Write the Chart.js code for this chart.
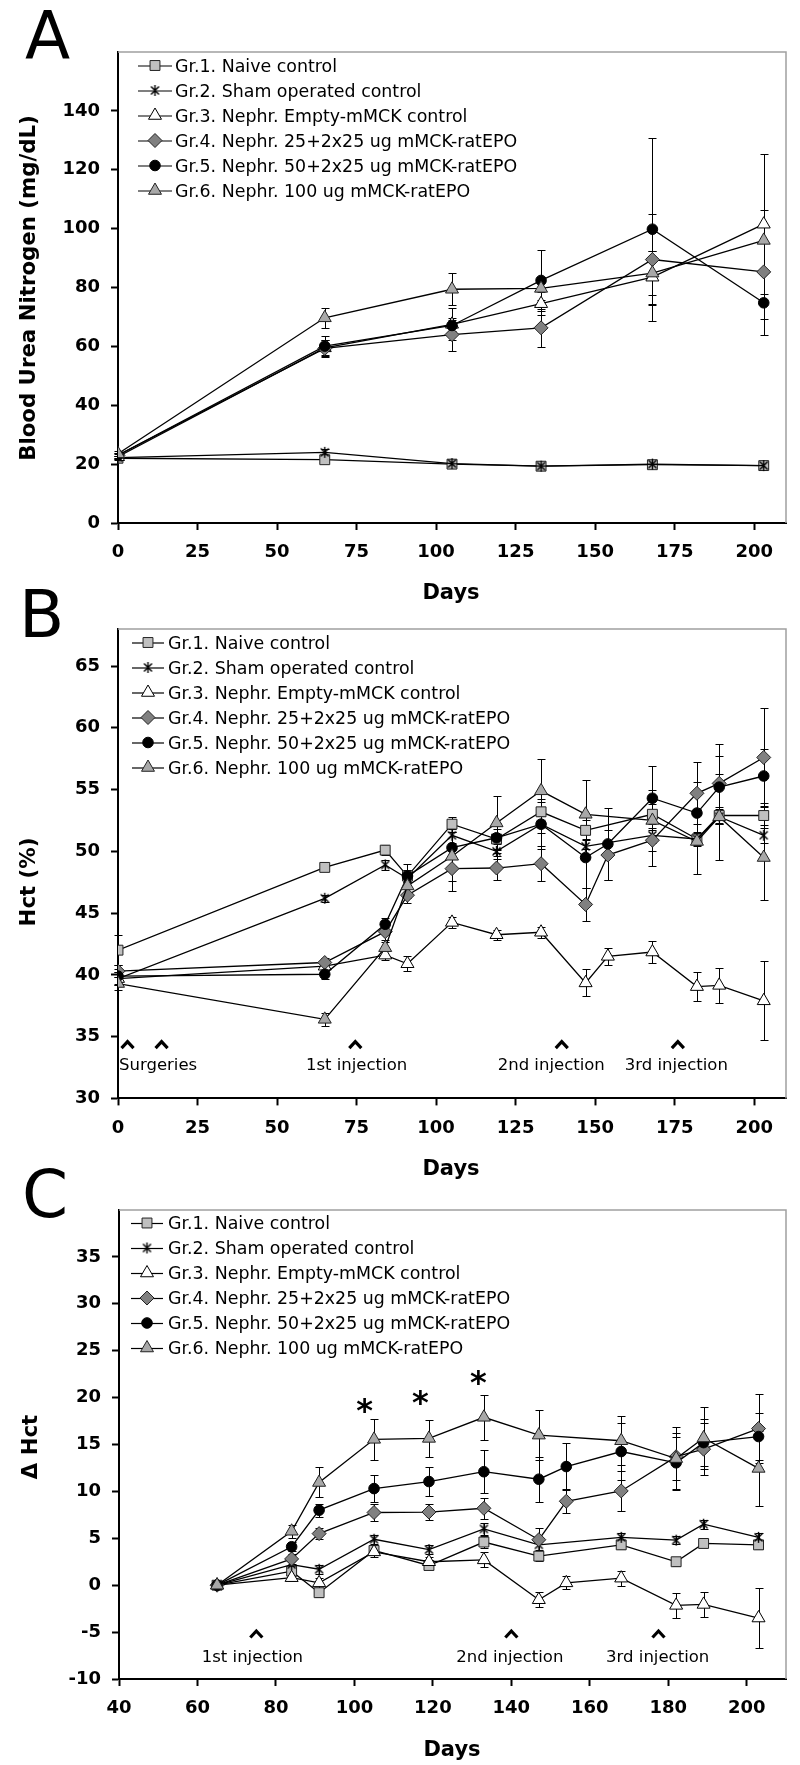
<!DOCTYPE html>
<html><head><meta charset="utf-8">
<script src="https://cdn.jsdelivr.net/npm/chart.js@4.4.1/dist/chart.umd.min.js"></script>
<style>
html,body{margin:0;padding:0;background:#fff;}
#wrap{position:relative;width:800px;height:1765px;overflow:hidden;}
canvas{position:absolute;left:0;top:0;}
</style></head><body>
<div id="wrap">
<canvas id="cA" width="800" height="1765"></canvas>
<canvas id="cB" width="800" height="1765"></canvas>
<canvas id="cC" width="800" height="1765"></canvas>
</div>
<script>
// ---------------- DATA ----------------
const groupLabels = [
  'Gr.1. Naive control',
  'Gr.2. Sham operated control',
  'Gr.3. Nephr. Empty-mMCK control',
  'Gr.4. Nephr. 25+2x25 ug mMCK-ratEPO',
  'Gr.5. Nephr. 50+2x25 ug mMCK-ratEPO',
  'Gr.6. Nephr. 100 ug mMCK-ratEPO'
];

// Panel A: Blood Urea Nitrogen (mg/dL)
const daysA = [0, 65, 105, 133, 168, 203];
const bunMean = [
  [22.0, 21.5, 20.0, 19.3, 19.8, 19.5],
  [22.2, 24.0, 20.2, 19.3, 20.0, 19.5],
  [22.5, 59.5, 67.5, 74.5, 83.5, 101.5],
  [23.0, 59.3, 64.0, 66.3, 89.5, 85.3],
  [23.0, 60.1, 67.1, 82.4, 99.8, 74.8],
  [23.5, 69.7, 79.4, 79.7, 84.9, 96.0]
];
const bunErr = [
  [0.6, 0.8, 0.8, 0.7, 0.7, 0.7],
  [0.6, 1.0, 0.8, 0.8, 0.8, 0.8],
  [0.8, 2.5, 5.5, 4.0, 9.0, 23.8],
  [0.8, 3.0, 5.6, 6.5, 15.4, 16.0],
  [0.8, 3.5, 2.0, 10.5, 31.1, 10.9],
  [0.8, 3.5, 5.5, 4.0, 7.6, 10.4]
];

// Panel B: Hct (%)
const daysB = [0, 65, 84, 91, 105, 119, 133, 147, 154, 168, 182, 189, 203];
const hctMean = [
  [42.0, 48.7, 50.1, 48.0, 52.2, 51.0, 53.2, 51.7, null, 53.0, 51.0, 52.9, 52.9],
  [39.7, 46.2, 48.9, 47.8, 51.3, 50.0, 52.2, 50.4, null, 51.3, 51.0, 52.8, 51.3],
  [39.7, 40.7, 41.6, 40.9, 44.25, 43.25, 43.45, 39.35, 41.5, 41.85, 39.05, 39.15, 37.9],
  [40.3, 41.0, 43.5, 46.45, 48.6, 48.65, 49.0, 45.7, 49.7, 50.9, 54.7, 55.5, 57.6],
  [39.9, 40.05, 44.1, 48.0, 50.3, 51.1, 52.2, 49.5, 50.6, 54.3, 53.1, 55.2, 56.1],
  [39.3, 36.4, 42.2, 47.2, 49.6, 52.3, 54.9, 53.0, null, 52.5, 50.8, 52.8, 49.5]
];
const hctErr = [
  [1.2, 0.3, 0.4, 0.5, 0.6, 0.8, 0.8, 0.8, null, 0.8, 0.6, 0.7, 0.8],
  [0.5, 0.3, 0.4, 0.5, 0.6, 0.6, 0.7, 0.6, null, 0.6, 0.5, 0.6, 0.6],
  [0.5, 0.4, 0.4, 0.6, 0.45, 0.4, 0.45, 1.1, 0.7, 0.9, 1.2, 1.4, 3.2],
  [0.5, 0.4, 0.8, 0.6, 1.8, 1.0, 1.4, 1.3, 2.0, 2.1, 2.5, 3.2, 4.0],
  [0.6, 0.4, 0.5, 1.0, 1.5, 1.2, 2.0, 2.5, 2.9, 2.6, 2.5, 2.5, 2.2],
  [0.5, 0.5, 0.6, 1.0, 2.0, 2.2, 2.6, 2.8, null, 2.5, 2.6, 3.5, 3.4]
];

// Panel C: delta Hct
const daysC = [65, 84, 91, 105, 119, 133, 147, 154, 168, 182, 189, 203];
const dHctMean = [
  [0, 1.5, -0.8, 3.7, 2.1, 4.6, 3.1, null, 4.3, 2.5, 4.45, 4.3],
  [0, 2.2, 1.7, 4.9, 3.8, 6.0, 4.3, null, 5.1, 4.8, 6.5, 5.1],
  [0, 0.8, 0.25, 3.55, 2.5, 2.7, -1.55, 0.25, 0.75, -2.15, -2.05, -3.5],
  [0, 2.8, 5.5, 7.75, 7.8, 8.2, 4.85, 8.95, 10.05, 13.7, 14.5, 16.7],
  [0, 4.1, 8.0, 10.3, 11.05, 12.1, 11.3, 12.65, 14.25, 13.05, 15.2, 15.85],
  [0, 5.75, 10.95, 15.55, 15.65, 17.9, 16.0, null, 15.4, 13.5, 15.7, 12.45]
];
const dHctErr = [
  [0.3, 0.5, 0.5, 0.5, 0.4, 0.6, 0.5, null, 0.4, 0.4, 0.4, 0.4],
  [0.3, 0.5, 0.5, 0.5, 0.5, 0.6, 0.5, null, 0.5, 0.4, 0.5, 0.5],
  [0.3, 0.4, 0.5, 0.5, 0.5, 0.8, 0.8, 0.7, 0.8, 1.3, 1.3, 3.2],
  [0.3, 0.5, 0.6, 0.9, 0.9, 1.1, 1.3, 1.3, 2.1, 2.5, 2.8, 3.7],
  [0.3, 0.5, 0.7, 1.4, 1.5, 2.3, 2.4, 2.5, 3.0, 2.8, 2.5, 2.5],
  [0.3, 0.7, 1.6, 2.2, 2.0, 2.4, 2.7, null, 2.6, 3.4, 3.3, 4.0]
];

// tick values
const xTicksAB = [0, 25, 50, 75, 100, 125, 150, 175, 200];
const xTicksC = [40, 60, 80, 100, 120, 140, 160, 180, 200];
const yTicksA = [0, 20, 40, 60, 80, 100, 120, 140];
const yTicksB = [30, 35, 40, 45, 50, 55, 60, 65];
const yTicksC = [-10, -5, 0, 5, 10, 15, 20, 25, 30, 35];

// annotation texts (day positions in data units)
const notesB = ['Surgeries', '1st injection', '2nd injection', '3rd injection'];
const notesBDay = [12.6, 75, 136.2, 175.5];
const caretsBDay = [3, 13.7, 74.6, 139.5, 176];
const notesC = ['1st injection', '2nd injection', '3rd injection'];
const notesCDay = [74, 139.6, 177.3];
const caretsCDay = [75, 140, 177.5];
const starsCDay = [102.6, 116.8, 131.6];
const starsCVal = [19.2, 20.0, 22.1];

// ---------------- STYLE ----------------
const FONT = 'DejaVu Sans';
function makeStar() {
  const c = document.createElement('canvas'); c.width = 13; c.height = 13;
  const g = c.getContext('2d'); g.strokeStyle = '#000'; g.lineWidth = 1.4;
  g.beginPath();
  g.moveTo(2.5, 2.5); g.lineTo(10.5, 10.5);
  g.moveTo(10.5, 2.5); g.lineTo(2.5, 10.5);
  g.moveTo(6.5, 1); g.lineTo(6.5, 12);
  g.stroke();
  return c;
}
const STAR = makeStar();
const markerStyles = [
  {ps: 'rect', r: 7, bg: '#c0c0c0', bc: '#222'},
  {ps: STAR, r: 6, bg: '#000', bc: '#000'},
  {ps: 'triangle', r: 7.5, bg: '#ffffff', bc: '#000'},
  {ps: 'rectRot', r: 7, bg: '#808080', bc: '#222'},
  {ps: 'circle', r: 5.3, bg: '#000', bc: '#000'},
  {ps: 'triangle', r: 7.5, bg: '#a8a8a8', bc: '#222'}
];

function drawMarker(ctx, ds, x, y) {
  ctx.save();
  ctx.fillStyle = ds.pointBackgroundColor;
  ctx.strokeStyle = ds.pointBorderColor;
  ctx.lineWidth = ds.pointBorderWidth;
  Chart.helpers.drawPoint(ctx, {pointStyle: ds.pointStyle, radius: ds.pointRadius, rotation: 0, borderWidth: ds.pointBorderWidth}, x, y);
  ctx.restore();
}

function makePlugin(cfg) {
  return {
    id: 'panelDeco',
    beforeDatasetsDraw(chart) {
      const ctx = chart.ctx, xs = chart.scales.x, ys = chart.scales.y;
      ctx.save(); ctx.strokeStyle = '#000'; ctx.lineWidth = 1;
      chart.data.datasets.forEach(ds => {
        ds.data.forEach((p, j) => {
          const e = ds.errs[j];
          if (p.y == null || e == null || e <= 0) return;
          const x = Math.round(xs.getPixelForValue(p.x)) + 0.5;
          const y1 = Math.round(ys.getPixelForValue(p.y + e)) + 0.5;
          const y2 = Math.round(ys.getPixelForValue(p.y - e)) + 0.5;
          ctx.beginPath();
          ctx.moveTo(x, y1); ctx.lineTo(x, y2);
          ctx.moveTo(x - 4, y1); ctx.lineTo(x + 4, y1);
          ctx.moveTo(x - 4, y2); ctx.lineTo(x + 4, y2);
          ctx.stroke();
        });
      });
      ctx.restore();
    },
    afterDraw(chart) {
      const ctx = chart.ctx, a = chart.chartArea, xs = chart.scales.x, ys = chart.scales.y;
      ctx.save();
      // grey frame top/right
      ctx.strokeStyle = '#a0a0a0'; ctx.lineWidth = 1.5;
      ctx.beginPath();
      ctx.moveTo(a.left, a.top); ctx.lineTo(a.right, a.top); ctx.lineTo(a.right, a.bottom);
      ctx.stroke();
      // legend
      const L = cfg.legend;
      ctx.font = '17.4px "' + FONT + '"';
      ctx.textBaseline = 'alphabetic'; ctx.textAlign = 'left';
      chart.data.datasets.forEach((ds, i) => {
        const y = L.y0 + i * 25;
        ctx.strokeStyle = '#000'; ctx.lineWidth = 1.2;
        ctx.beginPath(); ctx.moveTo(L.x1, y + 0.5); ctx.lineTo(L.x2, y + 0.5); ctx.stroke();
        drawMarker(ctx, ds, L.xm, y);
        ctx.fillStyle = '#000';
        ctx.fillText(ds.label, L.xt, y + 6.3);
      });
      // panel letter
      ctx.font = '66px "' + FONT + '"';
      ctx.fillStyle = '#000';
      let m = ctx.measureText(cfg.letter);
      ctx.fillText(cfg.letter, 25 + m.actualBoundingBoxLeft, cfg.letterBase);
      // y title
      ctx.font = 'bold 21.3px "' + FONT + '"';
      m = ctx.measureText(cfg.yTitle);
      ctx.save();
      ctx.translate(29, cfg.yTitleY);
      ctx.rotate(-Math.PI / 2);
      ctx.textAlign = 'center';
      ctx.fillText(cfg.yTitle, 0, (m.actualBoundingBoxAscent - m.actualBoundingBoxDescent) / 2);
      ctx.restore();
      // x title
      ctx.font = 'bold 21px "' + FONT + '"';
      ctx.textAlign = 'center';
      ctx.fillText('Days', cfg.xTitleX, cfg.xTitleBase);
      // annotations
      if (cfg.notes) {
        ctx.font = '16.5px "' + FONT + '"';
        ctx.textAlign = 'center';
        cfg.notes.forEach((t, k) => {
          ctx.fillText(t, xs.getPixelForValue(cfg.notesDay[k]), ys.getPixelForValue(cfg.notesVal));
        });
        ctx.lineWidth = 3.2; ctx.lineJoin = 'miter'; ctx.strokeStyle = '#000';
        cfg.caretsDay.forEach(d => {
          const x = xs.getPixelForValue(d), y = ys.getPixelForValue(cfg.caretVal);
          ctx.beginPath();
          ctx.moveTo(x - 6, y + 4); ctx.lineTo(x, y - 2.5); ctx.lineTo(x + 6, y + 4);
          ctx.stroke();
        });
      }
      if (cfg.stars) {
        ctx.font = 'bold 32px "' + FONT + '"';
        ctx.textAlign = 'center';
        const sm = ctx.measureText('*');
        const off = (sm.actualBoundingBoxAscent - sm.actualBoundingBoxDescent) / 2;
        cfg.stars.forEach((d, k) => {
          ctx.fillText('*', xs.getPixelForValue(d), ys.getPixelForValue(cfg.starsVal[k]) + off);
        });
      }
      ctx.restore();
    }
  };
}

function buildChart(id, days, means, errs, cfg) {
  const datasets = means.map((row, i) => ({
    label: groupLabels[i],
    data: days.map((d, j) => ({x: d, y: row[j]})),
    errs: errs[i],
    borderColor: '#000',
    borderWidth: 1.3,
    pointStyle: markerStyles[i].ps,
    pointRadius: markerStyles[i].r,
    pointBackgroundColor: markerStyles[i].bg,
    pointBorderColor: markerStyles[i].bc,
    pointBorderWidth: 1,
    spanGaps: true,
    tension: 0,
    order: 6 - i
  }));
  const yW = 60, xH = 40;
  const ar = cfg.area;
  const tickFont = {family: FONT, size: 18, weight: 'bold'};
  return new Chart(document.getElementById(id), {
    type: 'line',
    data: {datasets},
    plugins: [makePlugin(cfg)],
    options: {
      responsive: false, animation: false, devicePixelRatio: 1,
      layout: {padding: {left: ar.l - yW, top: ar.t, right: 800 - ar.r, bottom: 1765 - ar.b - xH}},
      plugins: {legend: {display: false}, tooltip: {enabled: false}, title: {display: false}},
      scales: {
        x: {
          type: 'linear', min: cfg.x.min, max: cfg.x.max,
          afterBuildTicks: s => { s.ticks = cfg.x.ticks.map(v => ({value: v})); },
          afterFit: s => { s.height = xH; },
          ticks: {font: tickFont, color: '#000', padding: 12, maxRotation: 0, autoSkip: false},
          grid: {drawOnChartArea: false, drawTicks: true, tickLength: 7, tickWidth: 2, tickColor: '#000'},
          border: {display: true, color: '#000', width: 2}
        },
        y: {
          type: 'linear', min: cfg.y.min, max: cfg.y.max,
          afterBuildTicks: s => { s.ticks = cfg.y.ticks.map(v => ({value: v})); },
          afterFit: s => { s.width = yW; },
          ticks: {font: tickFont, color: '#000', padding: 11, autoSkip: false},
          grid: {drawOnChartArea: false, drawTicks: true, tickLength: 7, tickWidth: 2, tickColor: '#000'},
          border: {display: true, color: '#000', width: 2}
        }
      }
    }
  });
}

buildChart('cA', daysA, bunMean, bunErr, {
  area: {l: 118, t: 52, r: 786, b: 523},
  x: {min: 0, max: 210, ticks: xTicksAB},
  y: {min: 0, max: 160, ticks: yTicksA},
  legend: {y0: 65.5, x1: 138, x2: 172, xm: 155, xt: 175},
  letter: 'A', letterBase: 58,
  yTitle: 'Blood Urea Nitrogen (mg/dL)', yTitleY: 288,
  xTitleX: 451, xTitleBase: 598.5
});
buildChart('cB', daysB, hctMean, hctErr, {
  area: {l: 118, t: 629, r: 786, b: 1098.4},
  x: {min: 0, max: 210, ticks: xTicksAB},
  y: {min: 30, max: 68, ticks: yTicksB},
  legend: {y0: 642.5, x1: 132, x2: 164, xm: 148, xt: 168},
  letter: 'B', letterBase: 637,
  yTitle: 'Hct (%)', yTitleY: 882,
  xTitleX: 451, xTitleBase: 1174.5,
  notes: notesB, notesDay: notesBDay, notesVal: 32.3,
  caretsDay: caretsBDay, caretVal: 34.4
});
buildChart('cC', daysC, dHctMean, dHctErr, {
  area: {l: 119, t: 1210, r: 786, b: 1679},
  x: {min: 40, max: 210, ticks: xTicksC},
  y: {min: -10, max: 40, ticks: yTicksC},
  legend: {y0: 1223, x1: 131, x2: 163, xm: 147, xt: 168},
  letter: 'C', letterBase: 1217,
  yTitle: '\u0394 Hct', yTitleY: 1447,
  xTitleX: 452, xTitleBase: 1755.5,
  notes: notesC, notesDay: notesCDay, notesVal: -8.15,
  caretsDay: caretsCDay, caretVal: -5.15,
  stars: starsCDay, starsVal: starsCVal
});
</script>
</body></html>
